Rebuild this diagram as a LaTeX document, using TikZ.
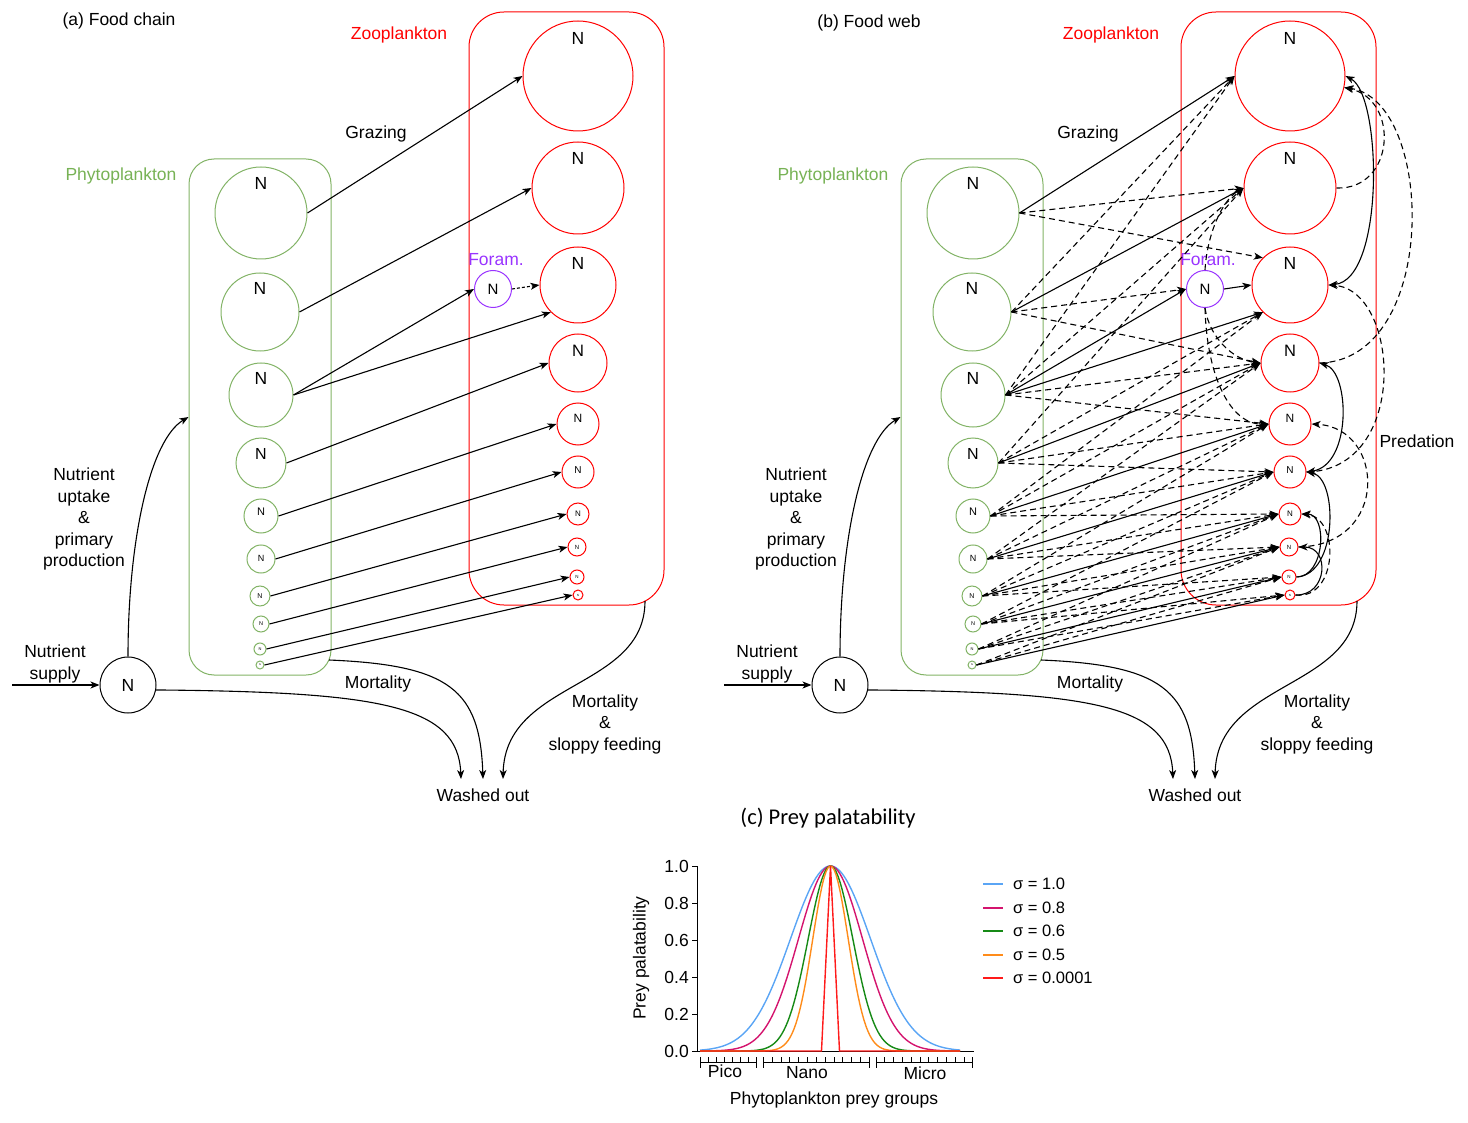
\documentclass[tikz,border=0pt]{standalone}
\usepackage{fontspec}
\setmainfont{Liberation Sans}
\newfontfamily\calib{Carlito}
\usetikzlibrary{arrows.meta,calc}
\definecolor{phy}{HTML}{82B366}
\definecolor{phytxt}{HTML}{77B255}
\definecolor{zoo}{HTML}{FF0000}
\definecolor{foram}{HTML}{9933FF}
\definecolor{cblue}{HTML}{5AA5F5}
\definecolor{cmag}{HTML}{D4146E}
\definecolor{cgreen}{HTML}{168A16}
\definecolor{corange}{HTML}{FF8C1A}
\definecolor{cred}{HTML}{FF1A1A}
\newcommand\fs[1]{\fontsize{#1}{#1}\selectfont}
\tikzset{
  txt/.style={font=\fs{17.5}, inner sep=0},
  mtxt/.style={font=\fontsize{17.5}{21.5}\selectfont, align=center, inner sep=0},
  pcirc/.style={circle, draw=phy, line width=1pt, inner sep=0, minimum size=#1},
  zcirc/.style={circle, draw=zoo, line width=1pt, inner sep=0, minimum size=#1},
  arr/.style={->, line width=1.1pt},
  darr/.style={->, line width=1.1pt, dash pattern=on 6pt off 4pt},
  pred/.style={line width=1.1pt},
}
\newcommand\panelbase[1]{%
  \node[draw=phy, line width=1pt, rounded corners=25pt, minimum width=142pt, minimum height=516pt, inner sep=0] (#1pbox) at (260,417) {};
  \node[draw=zoo, line width=1pt, rounded corners=35pt, minimum width=195pt, minimum height=593pt, inner sep=0] (#1zbox) at (566.5,308.5) {};
  \foreach \k/\x/\y/\rr/\fz/\sh in {1/261/213/46/17.5/30, 2/260/312/39/17.5/24, 3/261/395/32/17.5/17, 4/261/463/25/16/9, 5/261/516/17/11/4, 6/261/559/14/9/1, 7/260/596/10/7/0, 8/261/624/8/5.5/0, 9/260/649/6/4/0, 10/260/665/4/2.5/0}{
    \node[pcirc=\rr*2pt, label={[font=\fs{\fz}, yshift=\sh pt, inner sep=0]center:N}] (#1p\k) at (\x,\y) {};
  }
  \foreach \k/\x/\y/\rr/\fz/\sh in {1/578/76/55/17.5/38, 2/578/188/46/17.5/30, 3/578/285/38/17.5/22, 4/578/363/29/16.5/12, 5/578/424/21/12/6, 6/578/472/16/10/2, 7/578/514/11/8/0, 8/577/547/9/6/0, 9/577/577/7/4.5/0, 10/578/595/5/3/0}{
    \node[zcirc=\rr*2pt, label={[font=\fs{\fz}, yshift=\sh pt, inner sep=0]center:N}] (#1z\k) at (\x,\y) {};
  }
  \node[circle, draw=foram, line width=1pt, minimum size=37pt, inner sep=0, font=\fs{15}] (#1f) at (493,289) {N};
  \node[txt, text=foram] (#1flab) at (496,260) {Foram.};
  \node[circle, draw, line width=1pt, minimum size=56pt, inner sep=0, font=\fs{17.5}] (#1n) at (128,685) {N};
  \node[txt, text=phytxt] (#1phylab) at (121,176) {Phytoplankton};
  \node[txt, text=zoo] (#1zoolab) at (399,35) {Zooplankton};
  \node[txt] (#1graz) at (376,134) {Grazing};
  \node[mtxt] (#1upt) at (84,519) {Nutrient\\uptake\\\&\\primary\\production};
  \node[mtxt] (#1sup) at (55,664) {Nutrient\\supply};
  \node[txt] (#1mort) at (378,684) {Mortality};
  \node[mtxt] (#1mortz) at (605,724) {Mortality\\\&\\sloppy feeding};
  \node[txt] (#1wo) at (483,795) {Washed out};
  \coordinate (#1in) at (12,685);
  \coordinate (#1ms) at (329,660);
  \coordinate (#1zs) at (645,601);
  \coordinate (#1w1) at (461,779);
  \coordinate (#1w2) at (483,779);
  \coordinate (#1w3) at (503,779);
  \draw[arr] (#1in) -- (#1n.west);
  \draw[arr] (#1n.north) .. controls (128,540) and (150,440) .. (#1pbox.west);
  \draw[arr] (#1n.-10) .. controls (380,692) and (458,705) .. (#1w1);
  \draw[arr] (#1ms) .. controls (450,665) and (480,690) .. (#1w2);
  \draw[arr] (#1zs) .. controls (645,690) and (505,680) .. (#1w3);
  \foreach \i/\j/\a in {1/z1/west, 2/z2/west, 3/f/west, 3/z3/south west, 4/z4/west, 5/z5/west, 6/z6/west, 7/z7/west, 8/z8/west, 9/z9/west, 10/z10/west}{
    \draw[arr] (#1p\i.east) -- (#1\j.\a);
  }
}
\begin{document}
\begin{tikzpicture}[x=1pt, y=-1pt, >={Stealth[length=9pt,width=7pt,inset=2.5pt]}]
\useasboundingbox (0,0) rectangle (1468,1123);
% panel (a)
\node[txt] (atitle) at (119,21) {(a) Food chain};
\panelbase{a}
\draw[arr, dash pattern=on 3pt off 2pt] (af.east) -- (az3.west);
% panel (b)
\node[txt] (btitle) at (869,23) {(b) Food web};
\begin{scope}[xshift=712pt]
\panelbase{b}
\end{scope}
\draw[arr] (bf.east) -- (bz3.west);
\foreach \i/\j/\a in {1/z2/west, 1/z3/north west, 2/z1/west, 2/f/west, 2/z4/west, 3/z1/west, 3/z2/west, 3/z4/west, 3/z5/west, 4/z2/west, 4/z3/south west, 4/z5/west, 4/z6/west, 5/z3/south west, 5/z4/west, 5/z6/west, 5/z7/west, 6/z4/west, 6/z5/west, 6/z7/west, 6/z8/west, 7/z5/west, 7/z6/west, 7/z8/west, 7/z9/west, 8/z6/west, 8/z7/west, 8/z9/west, 8/z10/west, 9/z7/west, 9/z8/west, 9/z10/west, 10/z8/west, 10/z9/west}{
  \draw[darr] (bp\i.east) -- (b\j.\a);
}
% foram predation
\draw[darr] (bf.north) .. controls (1207,235) and (1222,200) .. (bz2.west);
\draw[darr] (bf.south) .. controls (1210,340) and (1235,360) .. (bz4.west);
\draw[darr] (bf.south) .. controls (1207,380) and (1232,425) .. (bz5.west);
% zooplankton predation
\draw[pred, <->] (bz3.east) .. controls (1385,280) and (1382,95) .. (bz1.east);
\draw[pred, <->] (bz6.east) .. controls (1352,465) and (1350,372) .. (bz4.east);
\draw[pred, ->] (bz9.east) .. controls (1338,575) and (1338,478) .. (bz6.east);
\draw[pred, ->] (bz9.east) .. controls (1325,577) and (1328,514) .. (bz7.east);
\draw[pred, ->] (bz10.east) .. controls (1328,596) and (1330,547) .. (bz8.east);
\draw[darr] (bz2.east) .. controls (1395,190) and (1400,100) .. (bz1.-12);
\draw[darr] (bz4.east) .. controls (1440,360) and (1435,100) .. (bz1.-12);
\draw[darr] (bz6.east) .. controls (1410,470) and (1400,290) .. (bz3.east);
\draw[darr] (bz8.east) .. controls (1390,545) and (1385,428) .. (bz5.east);
\draw[darr] (bz10.east) .. controls (1338,600) and (1340,518) .. (bz7.east);
\node[txt] (predlab) at (1417,441) {Predation};
% panel (c)
\node[font=\calib\fs{22.5}, inner sep=0] (ctitle) at (828,818) {(c) Prey palatability};
\draw[line width=1pt] (697,866) -- (697,1051) -- (974,1051);
\foreach \v/\l in {0/0.0,1/0.2,2/0.4,3/0.6,4/0.8,5/1.0}{
  \draw[line width=1pt] (692,{1051-37*\v}) -- (697,{1051-37*\v});
  \node[txt, anchor=east] (ytl\v) at (689,{1051-37*\v}) {\l};
}
\foreach \c/\s in {cblue/40, cmag/32, cgreen/22.3, corange/17.7}{
  \draw[\c, line width=1.4pt] plot[domain=700:960, samples=131] (\x,{1051-185*exp(-0.5*((\x-830.5)/\s)*((\x-830.5)/\s))});
}
\draw[cred, line width=1.4pt] (700,1051) -- (821.5,1051) -- (830.5,866) -- (839.5,1051) -- (960,1051);
% brackets
\foreach \a/\b/\n in {700.7/756.2/6, 763.3/869.3/11, 876/972.7/10}{
  \draw[line width=0.9pt] (\a,1062) -- (\b,1062);
  \draw[line width=0.9pt] (\a,1057) -- (\a,1068);
  \draw[line width=0.9pt] (\b,1057) -- (\b,1068);
  \foreach \m in {1,...,\n}{
    \draw[line width=0.8pt] ({\a+(\b-\a)*\m/(\n+1)},1057) -- ({\a+(\b-\a)*\m/(\n+1)},1062);
  }
}
\node[txt] (pico) at (725,1071) {Pico};
\node[txt] (nano) at (807,1073) {Nano};
\node[txt] (micro) at (925,1073) {Micro};
\node[txt] (xtitle) at (834,1100) {Phytoplankton prey groups};
\node[txt, rotate=90] (ytitle) at (641,958) {Prey palatability};
% legend
\foreach \k/\c/\t/\y in {1/cblue/1.0/884, 2/cmag/0.8/908, 3/cgreen/0.6/931, 4/corange/0.5/955, 5/cred/0.0001/978}{
  \draw[\c, line width=1.4pt] (983,\y) -- (1003,\y);
  \node[font=\fs{16.5}, inner sep=0, anchor=west] (leg\k) at (1013,\y) {σ = \t};
}
\end{tikzpicture}
\end{document}
